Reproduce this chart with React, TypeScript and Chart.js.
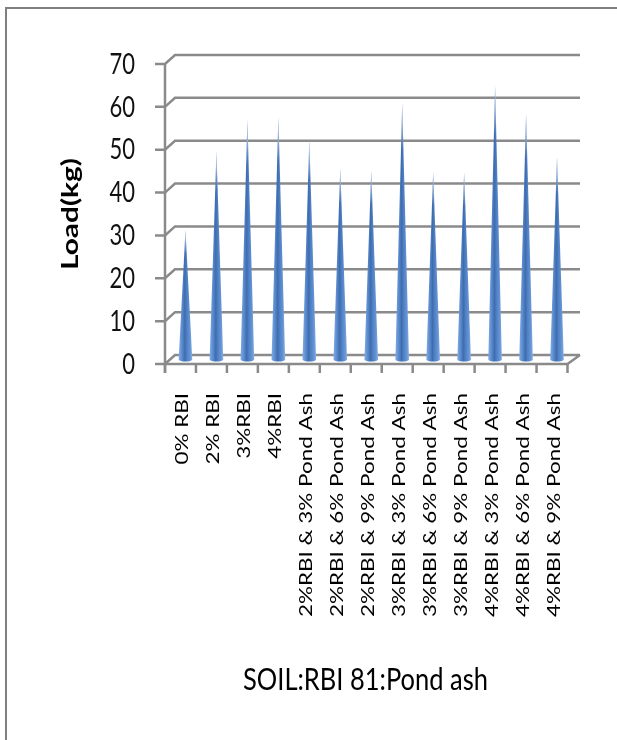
import React, { useEffect, useRef } from "react";
import { Chart, registerables } from "chart.js";

Chart.register(...registerables);

const categories: string[] = [
  "0% RBI",
  "2% RBI",
  "3%RBI",
  "4%RBI",
  "2%RBI & 3% Pond Ash",
  "2%RBI & 6% Pond Ash",
  "2%RBI & 9% Pond Ash",
  "3%RBI & 3% Pond Ash",
  "3%RBI & 6% Pond Ash",
  "3%RBI & 9% Pond Ash",
  "4%RBI & 3% Pond Ash",
  "4%RBI & 6% Pond Ash",
  "4%RBI & 9% Pond Ash",
];

const loadValues: number[] = [30.2, 48.5, 55.9, 56.5, 51.2, 44.6, 44.1, 59.8, 43.8, 43.7, 63.9, 57.3, 47.2];

const yTicks: number[] = [0, 10, 20, 30, 40, 50, 60, 70];

const yTitle = "Load(kg)";
const xTitle = "SOIL:RBI 81:Pond ash";

const W = 617;
const H = 740;
const DX = 5; // half depth offset (x)
const DY = 4.5; // half depth offset (y)
const FONT = "Lato, 'Open Sans', sans-serif";
const GRID = "#8a8a8a";

function drawText(
  ctx: CanvasRenderingContext2D,
  text: string,
  x: number,
  y: number,
  o: { font: string; angle?: number; align?: CanvasTextAlign; kx?: number; ky?: number; color?: string }
) {
  ctx.save();
  ctx.translate(x, y);
  ctx.scale(o.kx ?? 1, o.ky ?? 1);
  ctx.rotate(o.angle ?? 0);
  ctx.font = o.font;
  ctx.textAlign = o.align ?? "left";
  ctx.textBaseline = "alphabetic";
  ctx.fillStyle = o.color ?? "#000";
  ctx.fillText(text, 0, 0);
  ctx.restore();
}

function line(ctx: CanvasRenderingContext2D, pts: number[][], color = GRID, w = 2.5) {
  ctx.save();
  ctx.strokeStyle = color;
  ctx.lineWidth = w;
  ctx.lineCap = "butt";
  ctx.lineJoin = "miter";
  ctx.beginPath();
  ctx.moveTo(pts[0][0], pts[0][1]);
  for (let i = 1; i < pts.length; i++) ctx.lineTo(pts[i][0], pts[i][1]);
  ctx.stroke();
  ctx.restore();
}

const framePlugin = {
  id: "frame3d",
  beforeDatasetsDraw(chart: any) {
    const ctx: CanvasRenderingContext2D = chart.ctx;
    const ys = chart.scales.y;
    const xs = chart.scales.x;
    const area = chart.chartArea;

    // outer frame (top + left)
    line(ctx, [[W + 2, 8], [6, 8], [6, H + 2]], "#7f7f7f", 2);

    const frontL = area.left - DX;
    const frontR = area.right - DX;
    const backL = area.left + DX;
    const backR = area.right + DX + 2.5;

    // back wall grid lines, left wall diagonals, y ticks
    yTicks.forEach((v) => {
      const ym = ys.getPixelForValue(v);
      const yf = ym + DY;
      const yb = ym - DY;
      line(ctx, [[frontL - 10, yf], [frontL, yf], [backL, yb], [backR, yb]]);
    });
    // vertical axis
    line(ctx, [[frontL, ys.getPixelForValue(yTicks[yTicks.length - 1]) + DY], [frontL, ys.getPixelForValue(0) + DY + 9]]);
    // floor front line and right diagonal
    const y0f = ys.getPixelForValue(0) + DY;
    const y0b = ys.getPixelForValue(0) - DY;
    line(ctx, [[frontL, y0f], [frontR, y0f], [area.right + DX + 2.5, y0b]]);
    // category ticks
    const n = categories.length;
    const step = (frontR - frontL) / n;
    for (let i = 0; i <= n; i++) {
      const x = frontL + i * step;
      line(ctx, [[x, y0f], [x, y0f + 9]]);
    }

    // y tick labels
    const tickFont = `22px ${FONT}`;
    ctx.font = tickFont;
    const dAsc = ctx.measureText("0").actualBoundingBoxAscent || 16;
    const kyT = 1.3;
    yTicks.forEach((v) => {
      const yf = ys.getPixelForValue(v) + DY;
      drawText(ctx, String(v), 135, yf + (dAsc * kyT) / 2, { font: tickFont, align: "right", ky: kyT, color: "#111" });
    });

    // x category labels
    const labFont = `17.5px ${FONT}`;
    ctx.font = labFont;
    let maxW = 0;
    categories.forEach((c) => (maxW = Math.max(maxW, ctx.measureText(c).width)));
    const capH = ctx.measureText("P").actualBoundingBoxAscent || 12.5;
    const kyL = 224 / maxW;
    categories.forEach((c, i) => {
      const cx = xs.getPixelForValue(i) - DX + 1;
      drawText(ctx, c, cx + capH / 2, 393, { font: labFont, angle: -Math.PI / 2, align: "right", ky: kyL, color: "#000" });
    });

    // y axis title
    const yFont = `bold 22px ${FONT}`;
    ctx.font = yFont;
    const kyY = 112 / ctx.measureText(yTitle).width;
    drawText(ctx, yTitle, 78, 214, { font: yFont, angle: -Math.PI / 2, align: "center", ky: kyY, color: "#000" });

    // x axis title
    const tFont = `23px ${FONT}`;
    ctx.font = tFont;
    const kxT = 245 / ctx.measureText(xTitle).width;
    drawText(ctx, xTitle, 365.5, 690, { font: tFont, align: "center", kx: kxT, ky: 1.33, color: "#000" });
  },
  afterDatasetsDraw(chart: any) {
    const ctx: CanvasRenderingContext2D = chart.ctx;
    const meta = chart.getDatasetMeta(0);
    meta.data.forEach((el: any) => {
      const x = el.x;
      const tip = el.y;
      const base = el.base;
      const hw = 6.8;
      const ry = 2;
      const path = () => {
        ctx.beginPath();
        ctx.moveTo(x - hw, base);
        ctx.lineTo(x, tip);
        ctx.lineTo(x + hw, base);
        ctx.ellipse(x, base, hw, ry, 0, 0, Math.PI, false);
        ctx.closePath();
      };
      ctx.save();
      const g = ctx.createLinearGradient(x - hw, 0, x + hw, 0);
      g.addColorStop(0, "#80abe6");
      g.addColorStop(0.28, "#5686c9");
      g.addColorStop(0.45, "#3e6daf");
      g.addColorStop(0.62, "#5182c6");
      g.addColorStop(0.85, "#6795d6");
      g.addColorStop(1, "#88b1e6");
      path();
      ctx.fillStyle = g;
      ctx.fill();
      const hl = Math.max(12, (base - tip) * 0.18);
      const g2 = ctx.createLinearGradient(0, tip, 0, tip + hl);
      g2.addColorStop(0, "rgba(255,255,255,0.8)");
      g2.addColorStop(1, "rgba(255,255,255,0)");
      path();
      ctx.fillStyle = g2;
      ctx.fill();
      ctx.restore();
    });
  },
};

export default function App() {
  const ref = useRef<HTMLCanvasElement | null>(null);
  useEffect(() => {
    if (!ref.current) return;
    const area = { left: 170, right: 572.5, top: 59.5, bottom: 359.5 };
    const chart = new Chart(ref.current, {
      type: "bar",
      data: {
        labels: categories,
        datasets: [
          {
            label: yTitle,
            data: loadValues,
            backgroundColor: "rgba(0,0,0,0)",
            borderWidth: 0,
          },
        ],
      },
      options: {
        animation: false,
        responsive: false,
        devicePixelRatio: 1,
        layout: {
          padding: { left: area.left, right: W - area.right, top: area.top, bottom: H - area.bottom },
        },
        plugins: { legend: { display: false }, tooltip: { enabled: false }, title: { display: false } },
        scales: {
          x: { display: false, offset: true },
          y: { display: false, min: 0, max: 70, ticks: { stepSize: 10 } },
        },
      },
      plugins: [framePlugin],
    });
    return () => chart.destroy();
  }, []);
  return (
    <div style={{ position: "fixed", left: 0, top: 0, width: W, height: H, background: "#fff" }}>
      <canvas ref={ref} width={W} height={H} style={{ width: W, height: H, display: "block" }} />
    </div>
  );
}
